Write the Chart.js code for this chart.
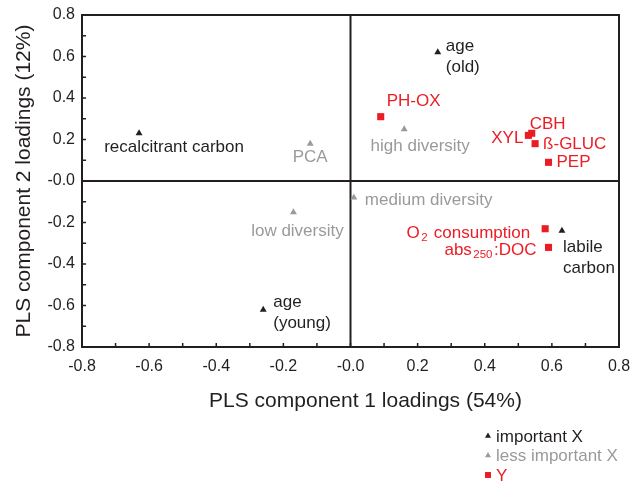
<!DOCTYPE html>
<html>
<head>
<meta charset="utf-8">
<script src="https://cdn.jsdelivr.net/npm/chart.js@4.4.1/dist/chart.umd.min.js"></script>
<style>
html, body { margin: 0; padding: 0; background: #fff; }
#wrap { width: 632px; height: 484px; }
</style>
</head>
<body>
<div id="wrap"><canvas id="getChart"></canvas></div>
<script>
// PLS loadings
var importantNames = ["age\n(old)", "recalcitrant carbon", "labile\ncarbon", "age\n(young)"];
var importantX = [0.26, -0.63, 0.63, -0.26];
var importantY = [0.62, 0.23, -0.24, -0.62];

var lessNames = ["PCA", "high diversity", "medium diversity", "low diversity"];
var lessX = [-0.12, 0.16, 0.01, -0.17];
var lessY = [0.18, 0.25, -0.08, -0.15];

var yNames = ["PH-OX", "CBH", "XYL", "ß-GLUC", "PEP", "O_{2} consumption", "abs_{250}:DOC"];
var yX = [0.09, 0.54, 0.53, 0.55, 0.59, 0.58, 0.59];
var yY = [0.31, 0.23, 0.22, 0.18, 0.09, -0.23, -0.32];

var seriesNames = ["important X", "less important X", "Y"];
var xTitle = "PLS component 1 loadings (54%)";
var yTitle = "PLS component 2 loadings (12%)";
var axisMin = -0.8, axisMax = 0.8, tickStep = 0.2, minorStep = 0.1;

// label placement (px offset from the point, alignment)
var importantLabelPos = [[8, -6, "left"], [35, 14, "center"], [1, 17, "left"], [10, -7, "left"]];
var lessLabelPos = [[0, 14, "center"], [16, 17, "center"], [11, 3, "left"], [4, 19, "center"]];
var yLabelPos = [[6, -15, "left"], [-2, -9, "left"], [-5, 3, "right"], [8, 1, "left"], [8, 0, "left"], [-15, 5, "right"], [-12, 3, "right"]];

var BLACK = "#231f20", GREY = "#9a9a9a", RED = "#ec1c24";
var FONT = "'Liberation Sans', Arial, sans-serif";
var LABEL_SIZE = 17, SUB_SIZE = 11.5;

function pts(xs, ys) {
    return xs.map(function (x, i) { return { x: x, y: ys[i] }; });
}

// draws a line of text with _{sub} parts
function drawRich(ctx, str, x, y, align) {
    var parts = [], re = /_\{([^}]*)\}/g, last = 0, m;
    while ((m = re.exec(str)) !== null) {
        if (m.index > last) parts.push({ t: str.slice(last, m.index), sub: false });
        parts.push({ t: m[1], sub: true });
        last = re.lastIndex;
    }
    if (last < str.length) parts.push({ t: str.slice(last), sub: false });
    var w = 0;
    parts.forEach(function (p) {
        ctx.font = (p.sub ? SUB_SIZE : LABEL_SIZE) + "px " + FONT;
        p.w = ctx.measureText(p.t).width + (p.sub ? 3 : 0);
        w += p.w;
    });
    var sx = align === "right" ? x - w : align === "center" ? x - w / 2 : x;
    ctx.textAlign = "left";
    ctx.textBaseline = "middle";
    parts.forEach(function (p) {
        ctx.font = (p.sub ? SUB_SIZE : LABEL_SIZE) + "px " + FONT;
        ctx.fillText(p.t, sx + (p.sub ? 1.5 : 0), y + (p.sub ? 4 : 0));
        sx += p.w;
    });
}

var pointLabels = {
    id: "pointLabels",
    afterDatasetsDraw: function (chart) {
        var ctx = chart.ctx;
        ctx.save();
        chart.data.datasets.forEach(function (ds, di) {
            var meta = chart.getDatasetMeta(di);
            meta.data.forEach(function (el, i) {
                var pos = ds.labelPos[i];
                ctx.fillStyle = ds.textColor;
                ds.names[i].split("\n").forEach(function (line, k) {
                    drawRich(ctx, line, el.x + pos[0], el.y + pos[1] + k * 20.5, pos[2]);
                });
            });
        });
        ctx.restore();
    }
};

var frame = {
    id: "frame",
    beforeDatasetsDraw: function (chart) {
        var ctx = chart.ctx, a = chart.chartArea;
        var xs = chart.scales.x, ys = chart.scales.y;
        ctx.save();
        ctx.strokeStyle = BLACK;
        ctx.lineWidth = 2;
        ctx.strokeRect(a.left, a.top, a.right - a.left, a.bottom - a.top);
        // zero lines
        ctx.beginPath();
        ctx.moveTo(xs.getPixelForValue(0), a.top);
        ctx.lineTo(xs.getPixelForValue(0), a.bottom);
        ctx.moveTo(a.left, ys.getPixelForValue(0));
        ctx.lineTo(a.right, ys.getPixelForValue(0));
        ctx.stroke();
        // inward tick marks
        ctx.lineWidth = 1.5;
        ctx.beginPath();
        var n = Math.round((axisMax - axisMin) / minorStep);
        for (var i = 0; i <= n; i++) {
            var v = axisMin + i * minorStep;
            var px = xs.getPixelForValue(v), py = ys.getPixelForValue(v);
            ctx.moveTo(px, a.bottom + 1);
            ctx.lineTo(px, a.bottom - 4);
            ctx.moveTo(a.left - 1, py);
            ctx.lineTo(a.left + 4, py);
        }
        ctx.stroke();
        // x axis title (sits a little right of centre in the original)
        ctx.fillStyle = BLACK;
        ctx.font = "21px " + FONT;
        ctx.textAlign = "center";
        ctx.textBaseline = "middle";
        ctx.fillText(xTitle, (a.left + a.right) / 2 + 15, a.bottom + 54);
        ctx.restore();
    }
};

var legendBox = {
    id: "legendBox",
    afterDraw: function (chart) {
        var ctx = chart.ctx;
        var x = chart.width - 144, y0 = chart.height - 48;
        ctx.save();
        chart.data.datasets.forEach(function (ds, i) {
            var y = y0 + i * 19.5;
            ctx.fillStyle = ds.backgroundColor;
            Chart.helpers.drawPoint(ctx, {
                pointStyle: ds.pointStyle, radius: ds.legendRadius, rotation: 0, borderWidth: 0
            }, x, y);
            ctx.fillStyle = ds.textColor;
            ctx.font = "17px " + FONT;
            ctx.textAlign = "left";
            ctx.textBaseline = "middle";
            ctx.fillText(ds.label, x + 8, y + 1);
        });
        ctx.restore();
    }
};

function tickText(v) {
    if (Math.abs(v) < 1e-9) return "-0.0";
    return v.toFixed(1);
}

var ctx = document.getElementById("getChart");
var chart = new Chart(ctx, {
    type: "scatter",
    data: {
        datasets: [{
                label: seriesNames[0],
                data: pts(importantX, importantY),
                names: importantNames,
                labelPos: importantLabelPos,
                textColor: BLACK,
                backgroundColor: BLACK,
                pointStyle: "triangle",
                pointRadius: 4,
                legendRadius: 3.5,
                borderWidth: 0
            },
            {
                label: seriesNames[1],
                data: pts(lessX, lessY),
                names: lessNames,
                labelPos: lessLabelPos,
                textColor: GREY,
                backgroundColor: GREY,
                pointStyle: "triangle",
                pointRadius: 4,
                legendRadius: 3.5,
                borderWidth: 0
            },
            {
                label: seriesNames[2],
                data: pts(yX, yY),
                names: yNames,
                labelPos: yLabelPos,
                textColor: RED,
                backgroundColor: RED,
                pointStyle: "rect",
                pointRadius: 5,
                legendRadius: 4.2,
                borderWidth: 0
            }
        ]
    },
    options: {
        responsive: true,
        maintainAspectRatio: false,
        animation: false,
        layout: { padding: { left: 8, right: 13, top: 15, bottom: 70 } },
        plugins: {
            legend: { display: false },
            tooltip: { enabled: false }
        },
        scales: {
            x: {
                min: axisMin,
                max: axisMax,
                grid: { display: false, drawTicks: false },
                border: { display: false },
                ticks: {
                    stepSize: tickStep,
                    padding: 10,
                    color: BLACK,
                    font: { family: FONT, size: 16 },
                    maxRotation: 0,
                    callback: tickText
                },
                afterFit: function (scale) {
                    scale.height = 67;
                    scale.paddingLeft = 0;
                    scale.paddingRight = 0;
                }
            },
            y: {
                min: axisMin,
                max: axisMax,
                grid: { display: false, drawTicks: false },
                border: { display: false },
                ticks: {
                    stepSize: tickStep,
                    padding: 7,
                    color: BLACK,
                    font: { family: FONT, size: 16 },
                    callback: tickText
                },
                title: {
                    display: true,
                    text: yTitle,
                    color: BLACK,
                    font: { family: FONT, size: 21 }
                },
                afterFit: function (scale) {
                    scale.width = 74;
                    scale.paddingTop = 0;
                    scale.paddingBottom = 0;
                }
            }
        }
    },
    plugins: [frame, pointLabels, legendBox]
});
</script>
</body>
</html>
